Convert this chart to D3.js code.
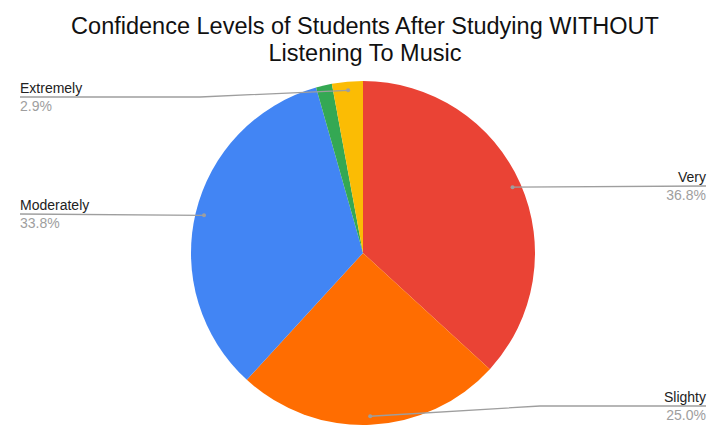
<!DOCTYPE html>
<html>
<head>
<meta charset="utf-8">
<script src="https://cdn.jsdelivr.net/npm/d3@7"></script>
<style>
  body { margin: 0; background: #fff; }
  svg { display: block; font-family: "Liberation Sans", Arial, sans-serif; }
</style>
</head>
<body>
<div id="chart"></div>
<script>
// data, clockwise from 12 o'clock
const categories = ["Very", "Slighty", "Moderately", "Not at all", "Extremely"];
const percents = [36.8, 25.0, 33.8, 1.5, 2.9];
const sliceColors = ["#ea4335", "#ff6d01", "#4285f4", "#34a853", "#fbbc04"];
const labelled = [true, true, true, false, true];

const titleLines = ["Confidence Levels of Students After Studying WITHOUT", "Listening To Music"];

const W = 720, H = 436;
const cx = 363, cy = 253, radius = 172;

// where each label row sits (underline y), left or right side
const labelLayout = {
  "Very":       {side: "right", y: 186, bendX: null},
  "Slighty":    {side: "right", y: 406, bendX: 540},
  "Moderately": {side: "left",  y: 214, bendX: null},
  "Extremely":  {side: "left",  y: 97,  bendX: 200}
};

const svg = d3.select("#chart").append("svg")
  .attr("width", W).attr("height", H);

// title
svg.append("g").selectAll("text")
  .data(titleLines)
  .join("text")
  .attr("x", 365)
  .attr("y", (d, i) => 34 + i * 27)
  .attr("text-anchor", "middle")
  .style("font-size", "23.5px")
  .style("fill", "#111")
  .text(d => d);

const data = categories.map((c, i) => ({name: c, value: percents[i], color: sliceColors[i], show: labelled[i]}));

const pie = d3.pie().sort(null).value(d => d.value);
const arc = d3.arc().innerRadius(0).outerRadius(radius);
const dotArc = d3.arc().innerRadius(radius * 0.95).outerRadius(radius * 0.95);

const arcs = pie(data);

const g = svg.append("g").attr("transform", "translate(" + cx + "," + cy + ")");
g.selectAll("path")
  .data(arcs)
  .join("path")
  .attr("d", arc)
  .style("fill", d => d.data.color);

// labels with leader lines
const lblG = svg.append("g");
arcs.filter(d => d.data.show).forEach(function(d){
  const lay = labelLayout[d.data.name];
  const c = dotArc.centroid(d);
  const dx = cx + c[0], dy = cy + c[1];
  const endX = lay.side === "right" ? 706 : 20;
  const pts = [[endX, lay.y]];
  if(lay.bendX !== null){
    pts.push([lay.bendX, lay.y]);
  }
  pts.push([dx, dy]);
  lblG.append("path")
    .attr("d", d3.line()(pts))
    .attr("fill", "none")
    .attr("stroke", "#9e9e9e")
    .attr("stroke-width", 1.3);
  lblG.append("circle")
    .attr("cx", dx).attr("cy", dy).attr("r", 2)
    .style("fill", "#9e9e9e");
  const anchor = lay.side === "right" ? "end" : "start";
  lblG.append("text")
    .attr("x", endX).attr("y", lay.y - 4)
    .attr("text-anchor", anchor)
    .style("font-size", "14px")
    .style("fill", "#222")
    .text(d.data.name);
  lblG.append("text")
    .attr("x", endX).attr("y", lay.y + 14)
    .attr("text-anchor", anchor)
    .style("font-size", "14px")
    .style("fill", "#9e9e9e")
    .text(d3.format(".1f")(d.data.value) + "%");
});
</script>
</body>
</html>
